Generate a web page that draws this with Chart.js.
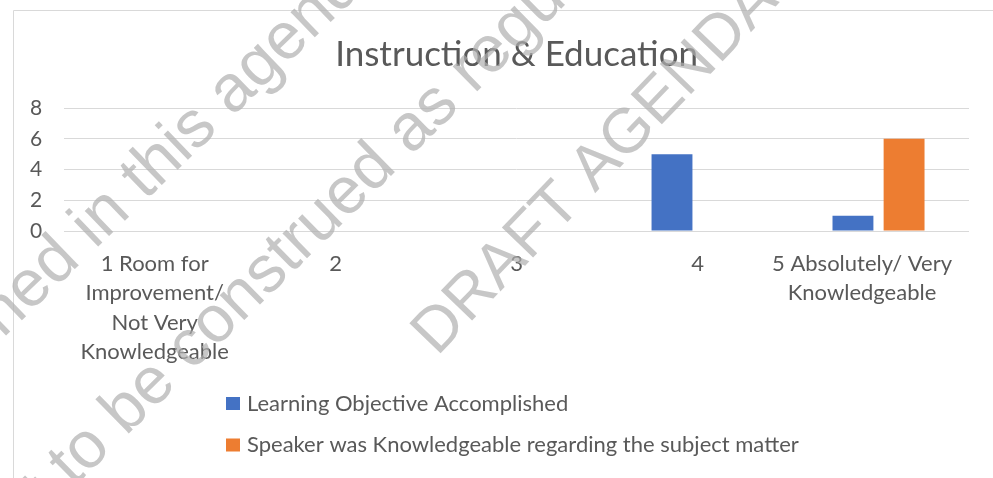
<!DOCTYPE html>
<html>
<head>
<meta charset="utf-8">
<script src="https://cdn.jsdelivr.net/npm/chart.js@4.4.1/dist/chart.umd.min.js"></script>
<style>
  body { margin: 0; background: #fff; }
  #wrap { width: 993px; height: 478px; position: relative; }
</style>
</head>
<body>
<div id="wrap"><canvas id="chart"></canvas></div>
<script>
const categories = [
  ["1 Room for", "Improvement/", "Not Very", "Knowledgeable"],
  "2",
  "3",
  "4",
  ["5 Absolutely/ Very", "Knowledgeable"]
];
const objectiveValues = [0, 0, 0, 5, 1];
const speakerValues = [0, 0, 0, 0, 6];
const yTicks = [0, 2, 4, 6, 8];

const watermarkLines = [
  { text: "contained in this agenda", x: -124, y: 461, angle: 44, size: 66 },
  { text: "not to be construed as regulatory", x: -5, y: 565, angle: 44.5, size: 66 },
  { text: "DRAFT AGENDA", x: 437, y: 357, angle: 46, size: 63 }
];

const textColor = "#595959";
const gridColor = "#d9d9d9";
const fontFamily = "Lato, 'Open Sans', sans-serif";

// frame round the chart, like the office chart box
const framePlugin = {
  id: "frame",
  beforeDraw(chart) {
    const ctx = chart.ctx;
    ctx.save();
    ctx.strokeStyle = gridColor;
    ctx.lineWidth = 1;
    ctx.beginPath();
    ctx.moveTo(13.5, chart.height);
    ctx.lineTo(13.5, 10.5);
    ctx.lineTo(chart.width, 10.5);
    ctx.stroke();
    ctx.restore();
  }
};

const watermarkPlugin = {
  id: "watermark",
  beforeDatasetsDraw(chart) {
    const ctx = chart.ctx;
    ctx.save();
    ctx.fillStyle = "rgba(175,175,175,0.7)";
    ctx.textAlign = "left";
    ctx.textBaseline = "alphabetic";
    watermarkLines.forEach(w => {
      ctx.save();
      ctx.font = w.size + "px 'Liberation Sans', sans-serif";
      ctx.translate(w.x, w.y);
      ctx.rotate(-w.angle * Math.PI / 180);
      ctx.fillText(w.text, 0, 0);
      ctx.restore();
    });
    ctx.restore();
  }
};

// stacked legend under the axis labels
const stackedLegend = {
  id: "stackedLegend",
  afterDraw(chart) {
    const ctx = chart.ctx;
    ctx.save();
    ctx.font = "22px " + fontFamily;
    ctx.textBaseline = "middle";
    ctx.textAlign = "left";
    chart.data.datasets.forEach((ds, i) => {
      const y = 403.5 + i * 41.5;
      ctx.fillStyle = ds.backgroundColor;
      ctx.fillRect(226, y - 6.5, 14, 13);
      ctx.fillStyle = textColor;
      ctx.fillText(ds.label, 247, y);
    });
    ctx.restore();
  }
};

new Chart(document.getElementById("chart"), {
  type: "bar",
  data: {
    labels: categories,
    datasets: [{
      label: "Learning Objective Accomplished",
      data: objectiveValues,
      backgroundColor: "#4472C4",
      categoryPercentage: 0.565,
      barPercentage: 0.8
    }, {
      label: "Speaker was Knowledgeable regarding the subject matter",
      data: speakerValues,
      backgroundColor: "#ED7D31",
      categoryPercentage: 0.565,
      barPercentage: 0.8
    }]
  },
  options: {
    responsive: true,
    maintainAspectRatio: false,
    animation: false,
    layout: { padding: { left: 8, right: 24, top: 22, bottom: 111 } },
    plugins: {
      legend: { display: false },
      tooltip: { enabled: false },
      title: {
        display: true,
        fullSize: false,
        text: "Instruction & Education",
        color: textColor,
        font: { family: fontFamily, size: 35, weight: "normal" },
        padding: { top: 12, bottom: 32 }
      }
    },
    scales: {
      x: {
        grid: { display: false, tickLength: 18 },
        border: { display: false },
        ticks: {
          color: textColor,
          maxRotation: 0,
          autoSkip: false,
          padding: 0,
          font: { family: fontFamily, size: 22, lineHeight: "29.5px" },
          callback(value, index) {
            const label = this.getLabelForValue(value);
            // the last label sits a little left of its column, kept inside the plot
            if (index === categories.length - 1) {
              return label.map(s => s + "\u2003\u2003");
            }
            return label;
          }
        }
      },
      y: {
        min: 0,
        max: 8,
        afterBuildTicks(scale) { scale.ticks = yTicks.map(v => ({ value: v })); },
        grid: { color: gridColor, lineWidth: 1, drawTicks: false },
        border: { display: false },
        ticks: {
          color: textColor,
          padding: 22,
          font: { family: fontFamily, size: 21 }
        }
      }
    }
  },
  plugins: [framePlugin, watermarkPlugin, stackedLegend]
});
</script>
</body>
</html>
